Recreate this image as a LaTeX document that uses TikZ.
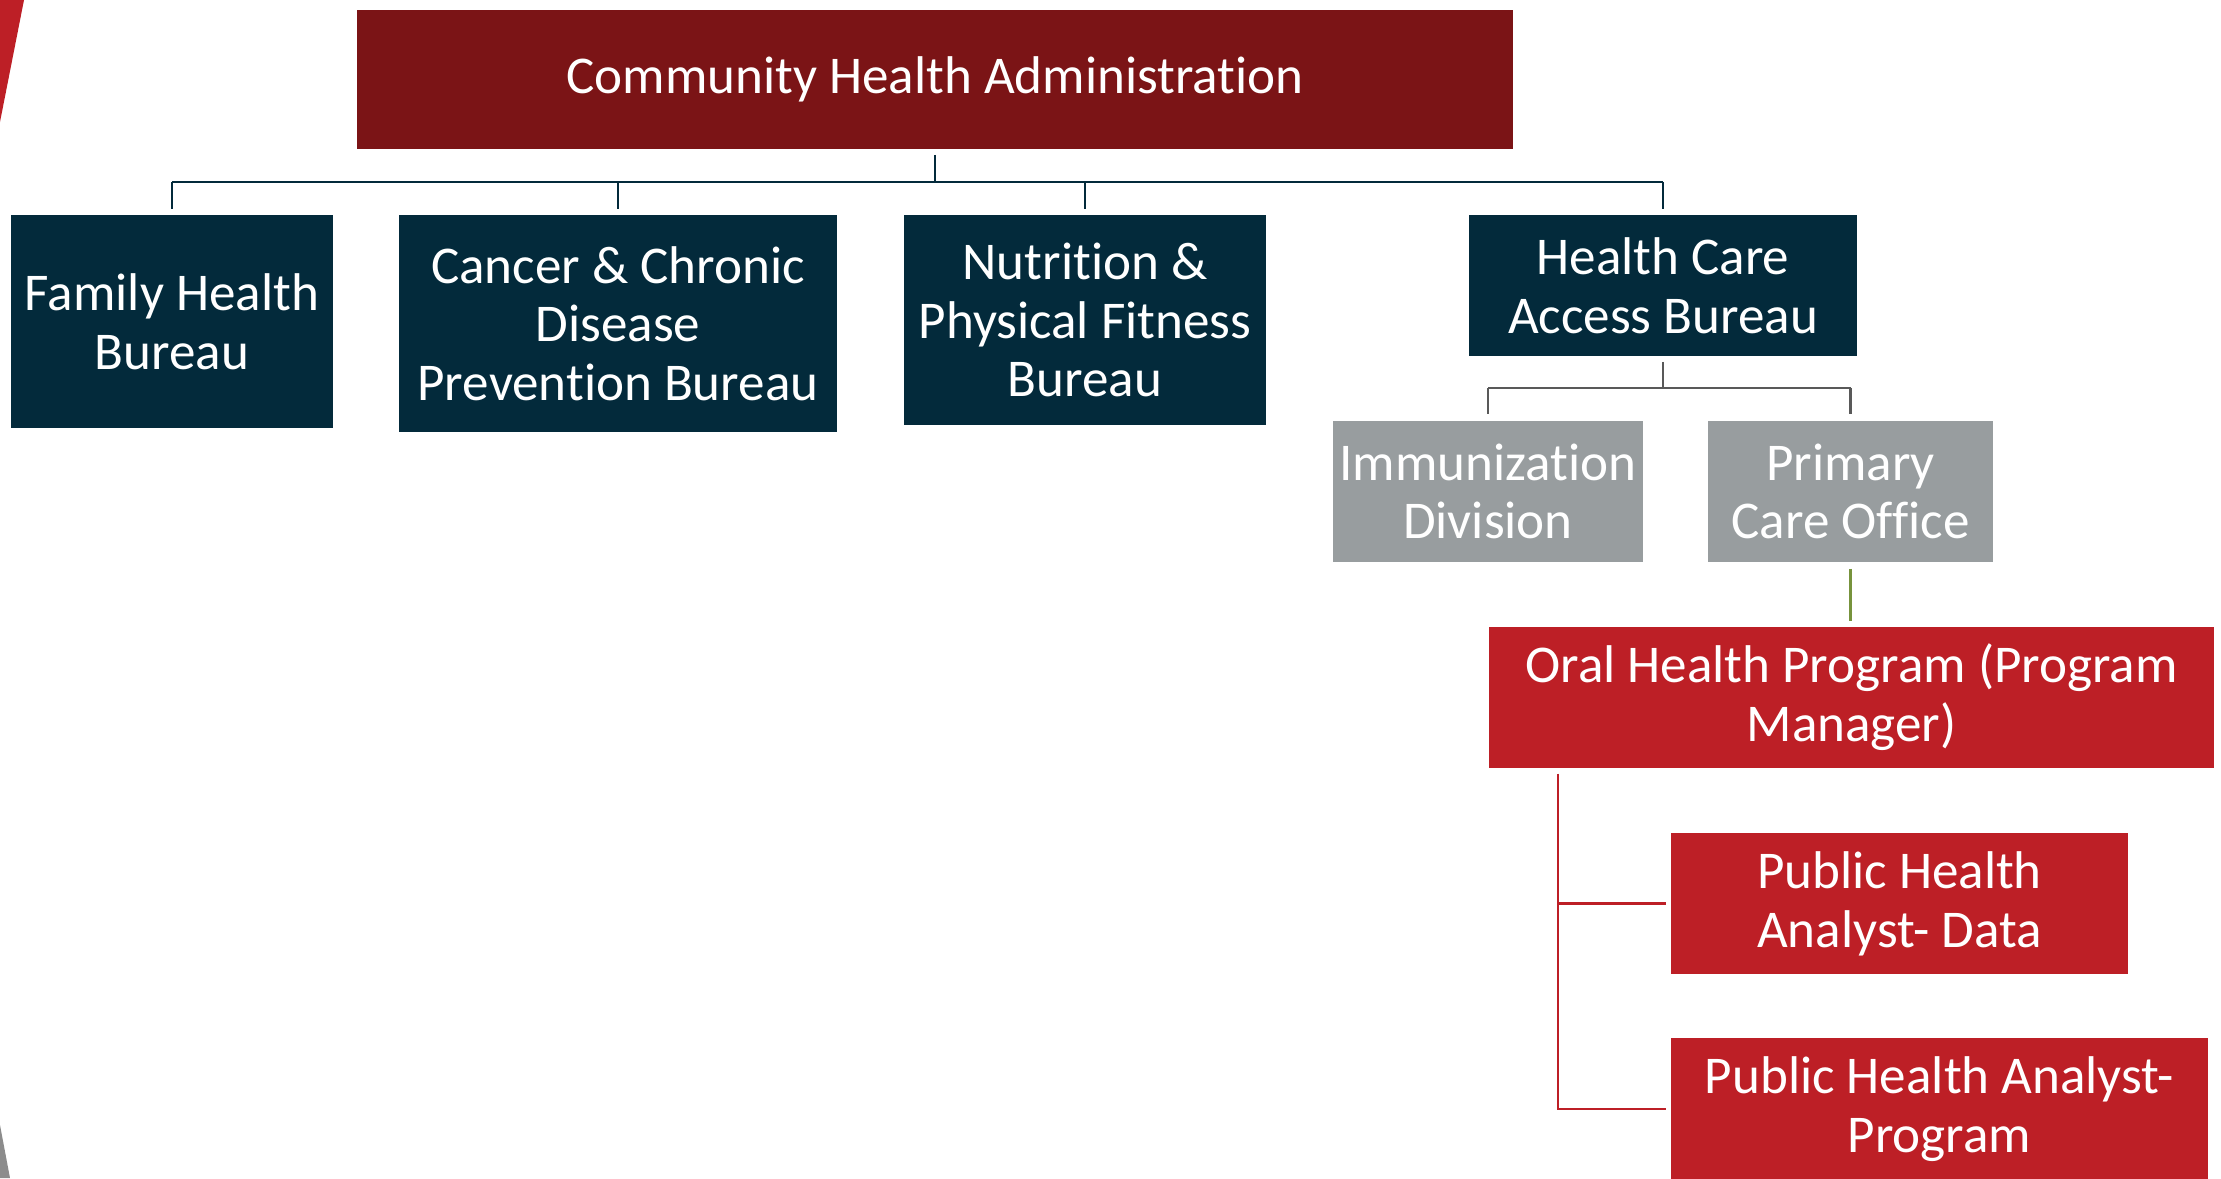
\documentclass[tikz,border=0pt]{standalone}
\usepackage{fontspec}
\setmainfont{Carlito}[Ligatures=NoCommon]
\definecolor{adminred}{HTML}{7B1416}
\definecolor{bureaunavy}{HTML}{032A3B}
\definecolor{divgray}{HTML}{989D9F}
\definecolor{progred}{HTML}{BD1F26}
\definecolor{linegray}{HTML}{595959}
\definecolor{linegreen}{HTML}{77933C}
\definecolor{cornergray}{HTML}{8C8C8C}
\newcommand\orgfont{\fontsize{15.1}{16.7}\selectfont}

\begin{document}
\begin{tikzpicture}[x=0.01cm, y=-0.01cm,
  orgbox/.style={rectangle, inner sep=0pt, align=center, text=white, font=\orgfont},
  navyline/.style={draw=bureaunavy, line width=0.7pt},
  grayline/.style={draw=linegray, line width=0.7pt},
  greenline/.style={draw=linegreen, line width=0.7pt},
  redline/.style={draw=progred, line width=0.7pt}]
\useasboundingbox[fill=white] (0,0) rectangle (2221,1178);
% corner pieces
\fill[progred] (0,0) -- (24,0) -- (0,122) -- cycle;
\fill[cornergray] (0,1125) -- (10,1178) -- (0,1178) -- cycle;
% boxes
\node[orgbox, fill=adminred, minimum width=11.56cm, minimum height=1.39cm] (cha) at (935,79.5) {Community Health Administration};
\node[orgbox, fill=bureaunavy, minimum width=3.22cm, minimum height=2.13cm] (fhb) at (172,321.5) {Family Health\\Bureau};
\node[orgbox, fill=bureaunavy, minimum width=4.38cm, minimum height=2.17cm] (ccd) at (618,323.5) {Cancer \& Chronic\\Disease\\Prevention Bureau};
\node[orgbox, fill=bureaunavy, minimum width=3.62cm, minimum height=2.10cm] (npf) at (1085,320) {Nutrition \&\\Physical Fitness\\Bureau};
\node[orgbox, fill=bureaunavy, minimum width=3.88cm, minimum height=1.41cm] (hca) at (1663,285.5) {Health Care\\Access Bureau};
\node[orgbox, fill=divgray, minimum width=3.10cm, minimum height=1.41cm] (imm) at (1488,491.5) {Immunization\\Division};
\node[orgbox, fill=divgray, minimum width=2.85cm, minimum height=1.41cm] (pco) at (1850.5,491.5) {Primary\\Care Office};
\node[orgbox, fill=progred, minimum width=7.25cm, minimum height=1.41cm] (ohp) at (1851.5,697.5) {Oral Health Program (Program\\Manager)};
\node[orgbox, fill=progred, minimum width=4.57cm, minimum height=1.41cm] (phad) at (1899.5,903.5) {Public Health\\Analyst- Data};
\node[orgbox, fill=progred, minimum width=5.37cm, minimum height=1.41cm] (phap) at (1939.5,1109) {Public Health Analyst-\\Program};
% administration to bureaus
\draw[navyline] ([yshift=-0.05cm]cha.south) -- ++(0,27) coordinate (tbar);
\draw[navyline] (fhb.north |- tbar) -- (hca.north |- tbar);
\foreach \b in {fhb,ccd,npf,hca}
  \draw[navyline] (\b.north |- tbar) -- ([yshift=0.05cm]\b.north);
% bureau to divisions
\draw[grayline] ([yshift=-0.05cm]hca.south) -- ++(0,26) coordinate (hbar);
\draw[grayline] (imm.north |- hbar) -- (pco.north |- hbar);
\foreach \b in {imm,pco}
  \draw[grayline] (\b.north |- hbar) -- ([yshift=0.06cm]\b.north);
% office to program
\draw[greenline] ([yshift=-0.06cm]pco.south) -- ([yshift=0.05cm]ohp.north -| pco.south);
% program to analysts
\coordinate (ptop) at ([xshift=0.70cm,yshift=-0.05cm]ohp.south west);
\draw[redline] (ptop) |- ([xshift=-0.04cm]phad.west);
\draw[redline] (ptop) |- ([xshift=-0.04cm]phap.west);
\end{tikzpicture}
\end{document}
